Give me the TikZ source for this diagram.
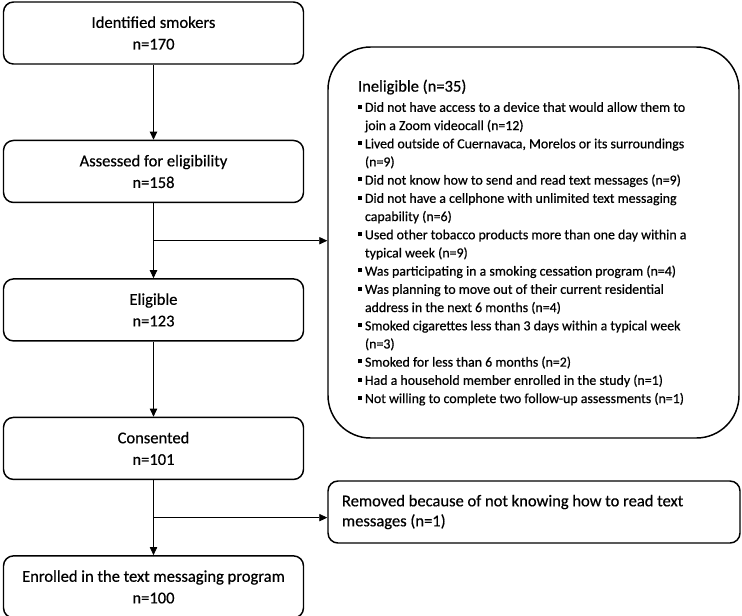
\documentclass[tikz,border=0pt]{standalone}
\usepackage{fontspec}
\setmainfont{Carlito}[FakeBold=0.5]
\usetikzlibrary{positioning, arrows.meta, calc}

\newcommand{\blt}{\makebox[5.25pt][l]{\rule[2.4pt]{3pt}{3pt}}}
\newcommand{\ind}{\hspace*{5.25pt}}

\begin{document}
\begin{tikzpicture}[
  x=0.75pt, y=-0.75pt,
  font=\fontsize{12.4}{16.2}\selectfont,
  box/.style={draw, line width=1.1pt, rounded corners=7.5pt, minimum width=225pt, minimum height=46.5pt, text width=219pt, align=flush center, inner sep=2pt,
    execute at begin node={\spaceskip=0pt\relax\xspaceskip=0pt\relax}},
  sidebox/.style={draw, line width=1.1pt, rounded corners=7.5pt, align=left,
    execute at begin node={\spaceskip=0pt\relax\xspaceskip=0pt\relax}},
  line/.style={line width=0.6pt},
  >={Triangle[length=6pt, width=5.5pt]}
]
\useasboundingbox (0,0) rectangle (742,615);
% main column: screening steps
\node[box] (ident) at (153.5,33) {Identified smokers\\n=170};
\node[box, below=56.25pt of ident] (assess) {Assessed for eligibility\\n=158};
\node[box, below=56.25pt of assess] (elig) {Eligible\\n=123};
\node[box, below=56.25pt of elig] (consent) {Consented\\n=101};
\node[box, below=56.25pt of consent] (enrol) {Enrolled in the text messaging program\\n=100};
% exclusion boxes on the right
\node[sidebox, rounded corners=32pt, text width=263.25pt, inner xsep=22.5pt, minimum height=293.25pt] (inelig) at (533.5,242.5) {%
  {\fontsize{12.4}{15}\selectfont Ineligible (n=35)\par}
  \vspace{1.5pt}
  {\fontsize{10.4}{13.65}\selectfont
  \blt Did not have access to a device that would allow them to\\
  \ind join a Zoom videocall (n=12)\\
  \blt Lived outside of Cuernavaca, Morelos or its surroundings\\
  \ind (n=9)\\
  \blt Did not know how to send and read text messages (n=9)\\
  \blt Did not have a cellphone with unlimited text messaging\\
  \ind capability (n=6)\\
  \blt Used other tobacco products more than one day within a\\
  \ind typical week (n=9)\\
  \blt Was participating in a smoking cessation program (n=4)\\
  \blt Was planning to move out of their current residential\\
  \ind address in the next 6 months (n=4)\\
  \blt Smoked cigarettes less than 3 days within a typical week\\
  \ind (n=3)\\
  \blt Smoked for less than 6 months (n=2)\\
  \blt Had a household member enrolled in the study (n=1)\\
  \blt Not willing to complete two follow-up assessments (n=1)\par}};
\node[sidebox, text width=288pt, inner xsep=10.5pt, minimum height=46.5pt, font=\fontsize{12.4}{15}\selectfont] (removed) at (534,512) {Removed because of not knowing how to read text\\messages (n=1)};
% vertical flow
\draw[line, ->] (ident) -- (assess);
\draw[line, ->] (assess) -- (elig);
\draw[line, ->] (elig) -- (consent);
\draw[line, ->] (consent) -- (enrol);
% side branches
\coordinate (split1) at ($(assess.south)!0.5!(elig.north)$);
\draw[line, ->] (split1) -- (split1 -| inelig.west);
\coordinate (split2) at ($(consent.south)!0.5!(enrol.north)$);
\draw[line, ->] (split2) -- (split2 -| removed.west);
\end{tikzpicture}
\end{document}
